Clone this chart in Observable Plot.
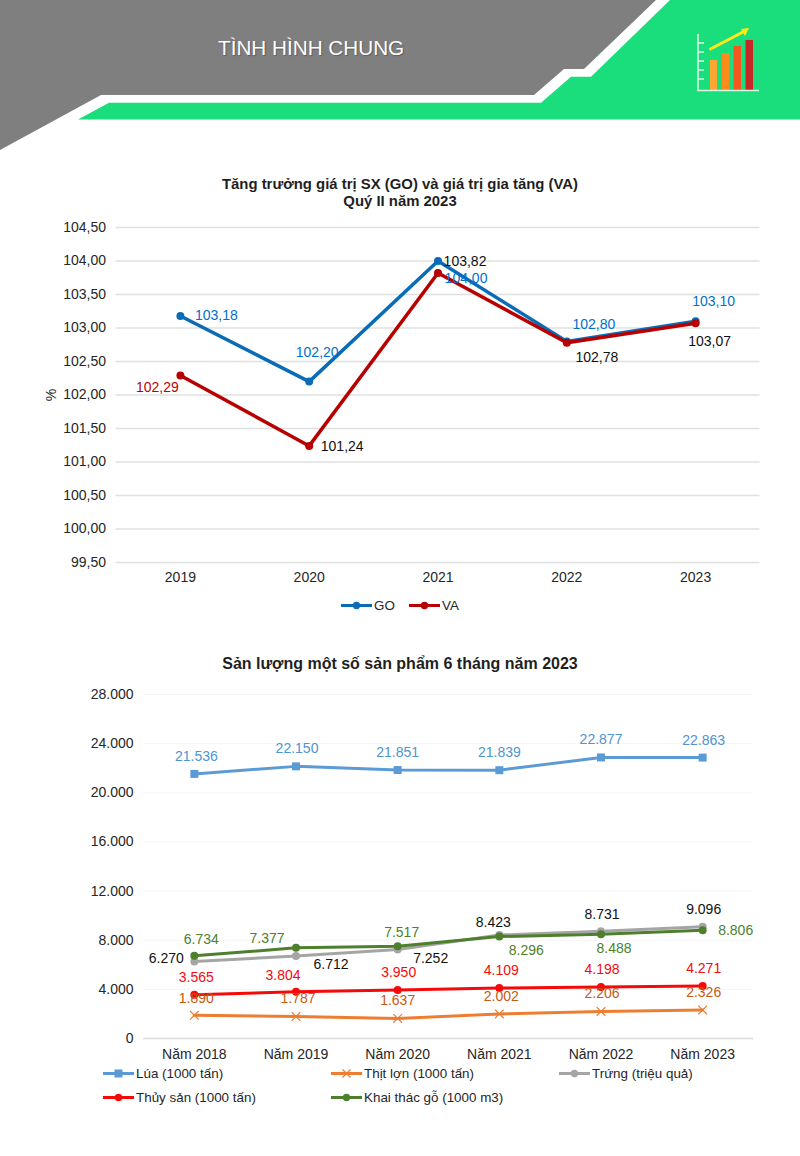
<!DOCTYPE html>
<html lang="vi">
<head>
<meta charset="utf-8">
<title>Tình hình chung</title>
<script src="https://cdn.jsdelivr.net/npm/d3@7"></script>
<script src="https://cdn.jsdelivr.net/npm/@observablehq/plot@0.6"></script>
<style>
  html, body { margin: 0; padding: 0; background: #fff; }
  #page { position: relative; width: 800px; height: 1156px; overflow: hidden; font-family: "Liberation Sans", Arial, sans-serif; color: #1a1a1a; }
  #page > svg { position: absolute; }
  .title { position: absolute; left: 0; width: 800px; text-align: center; font-weight: bold; color: #1f1f1f; }
  .legend { position: absolute; display: flex; align-items: center; font-size: 13.400px; color: #262626; white-space: nowrap; }
  .legend svg { display: block; margin-right: 2px; }
  #banner-text { position: absolute; left: 218px; top: 36px; font-size: 20.700px; color: #fff; text-shadow: 1px 1px 1px rgba(60,60,60,.5); white-space: nowrap; }
</style>
</head>
<body>
<div id="page">
  <svg width="800" height="160" style="left:0;top:0">
    <polygon points="78,119.5 109,102.7 541,102.7 571,76.7 591,76.7 670,0 800,0 800,119.5" fill="#19de7b"/>
    <polygon points="0,0 656,0 584,69 564,69 534,95 101,95 0,150" fill="#7f7f7f"/>
    <g>
      <rect x="710" y="60" width="7" height="30" fill="#ffa733"/>
      <rect x="722" y="53" width="7" height="37" fill="#ff8c1a"/>
      <rect x="733.5" y="46" width="7.5" height="44" fill="#f4581f"/>
      <rect x="745.5" y="40" width="7.5" height="50" fill="#c62828"/>
      <path d="M698 34V90.5H759M698 43h6M698 52h6M698 61h6M698 70h6M698 79h6" fill="none" stroke="#d8f5e6" stroke-width="1.6"/>
      <path d="M709.5 49.500L743 32" stroke="#ffeb1a" stroke-width="3" fill="none"/>
      <polygon points="749,28 741,29 745,36" fill="#ffeb1a"/>
    </g>
  </svg>
  <div id="banner-text">TÌNH HÌNH CHUNG</div>

  <div class="title" style="top:176px;font-size:14.900px;line-height:17px">Tăng trưởng giá trị SX (GO) và giá trị gia tăng (VA)<br>Quý II năm 2023</div>
  <div class="title" style="top:655px;font-size:16px;line-height:18px">Sản lượng một số sản phẩm 6 tháng năm 2023</div>
</div>
<script>
// ---------- Data ----------
const growthYears = ["2019", "2020", "2021", "2022", "2023"];
const goValues = [103.18, 102.20, 104.00, 102.80, 103.10];
const vaValues = [102.29, 101.24, 103.82, 102.78, 103.07];
const growthTicks = [99.5, 100, 100.5, 101, 101.5, 102, 102.5, 103, 103.5, 104, 104.5];

const outputYears = ["Năm 2018", "Năm 2019", "Năm 2020", "Năm 2021", "Năm 2022", "Năm 2023"];
const luaValues = [21536, 22150, 21851, 21839, 22877, 22863];
const thitLonValues = [1890, 1787, 1637, 2002, 2206, 2326];
const trungValues = [6270, 6712, 7252, 8423, 8731, 9096];
const thuySanValues = [3565, 3804, 3950, 4109, 4198, 4271];
const khaiThacGoValues = [6734, 7377, 7517, 8296, 8488, 8806];
const outputTicks = [0, 4000, 8000, 12000, 16000, 20000, 24000, 28000];

// ---------- Helpers ----------
const fmtDec = d => d.toFixed(2).replace(".", ",");
const fmtInt = d => d3.format(",")(d).replace(/,/g, ".");
const page = document.getElementById("page");

function seriesMarks(cats, values, o) {
  const rows = cats.map((c, i) => ({c, v: values[i]}));
  return [
    Plot.line(rows, {x: "c", y: "v", stroke: o.color, strokeWidth: o.width ?? 3, curve: "linear"}),
    Plot.dot(rows, {x: "c", y: "v", r: o.r ?? 4, symbol: o.symbol ?? "circle",
      ...(o.symbol === "times" ? {stroke: o.color, strokeWidth: 1.2, fill: "none"} : {fill: o.color, stroke: "none"})})
  ];
}
function labelMarks(cats, values, fmt, color, offsets) {
  return values.map((v, i) => {
    const c = Array.isArray(color) ? color[i] : color;
    return Plot.text([{c: cats[i], v}], {x: "c", y: "v", text: d => fmt(d.v), fill: c,
      dx: offsets[i][0], dy: offsets[i][1], fontSize: 14, textAnchor: "middle"});
  });
}
function legendItem(left, top, label, color, kind) {
  const el = document.createElement("div");
  el.className = "legend";
  el.style.left = left + "px";
  el.style.top = top + "px";
  let mark = "";
  if (kind === "square") mark = `<rect x="11.500" y="3.500" width="8" height="8" fill="${color}"/>`;
  if (kind === "circle") mark = `<circle cx="15.500" cy="7.500" r="3.700" fill="${color}"/>`;
  if (kind === "times") mark = `<path d="M11.500 3.500l8 8M19.500 3.500l-8 8" stroke="${color}" stroke-width="1.200"/>`;
  el.innerHTML = `<svg width="31" height="15"><line x1="0" x2="31" y1="7.500" y2="7.500" stroke="${color}" stroke-width="3"/>${mark}</svg><span>${label}</span>`;
  page.appendChild(el);
}

// ---------- Chart 1 ----------
const blue = "#0a6cb6", red = "#b80000";
const chart1 = Plot.plot({
  width: 800, height: 400,
  marginLeft: 115.5, marginRight: 40.5, marginTop: 27, marginBottom: 38,
  style: {fontFamily: "'Liberation Sans', Arial, sans-serif", fontSize: "14px", background: "transparent", color: "#262626"},
  x: {type: "point", domain: growthYears, padding: 0.5, round: false, label: null},
  y: {domain: [99.5, 104.5], label: null},
  marks: [
    Plot.ruleY(growthTicks, {stroke: "#e0e0e0", strokeWidth: 1.5}),
    Plot.axisY(growthTicks, {tickSize: 0, tickPadding: 10, tickFormat: fmtDec, fontSize: 14, label: "%", labelAnchor: "center", labelArrow: "none", labelOffset: 70}),
    Plot.axisX(growthYears, {tickSize: 0, tickPadding: 10, fontSize: 14, label: null}),
    ...seriesMarks(growthYears, goValues, {color: blue, width: 3.5}),
    ...seriesMarks(growthYears, vaValues, {color: red, width: 3.5}),
    ...labelMarks(growthYears, goValues, fmtDec, "#0070c8", [[36, 0], [8, -29], [28, 18], [27, -17], [18, -20]]),
    ...labelMarks(growthYears, vaValues, fmtDec, ["#c00000", "#111", "#111", "#111", "#111"], [[-23, 12], [33, 1], [27, -12], [30, 15], [14, 18]])
  ]
});
chart1.style.left = "0px"; chart1.style.top = "200px";
page.appendChild(chart1);
legendItem(341, 598, "GO", blue, "circle");
legendItem(409, 598, "VA", red, "circle");

// ---------- Chart 2 ----------
const cLua = "#5b9bd5", cThit = "#ed7d31", cTrung = "#a5a5a5", cThuy = "#f50a0a", cGo = "#4d7f2d";
const chart2 = Plot.plot({
  width: 800, height: 390,
  marginLeft: 143, marginRight: 47, marginTop: 14, marginBottom: 32,
  style: {fontFamily: "'Liberation Sans', Arial, sans-serif", fontSize: "14px", background: "transparent", color: "#262626"},
  x: {type: "point", domain: outputYears, padding: 0.5, round: false, label: null},
  y: {domain: [0, 28000], label: null},
  marks: [
    Plot.ruleY(outputTicks.filter(d => d > 0), {stroke: "#f4f4f4", strokeWidth: 1}),
    Plot.ruleY([0], {stroke: "#dcdcdc", strokeWidth: 1.5}),
    Plot.axisY(outputTicks, {tickSize: 0, tickPadding: 10, tickFormat: fmtInt, fontSize: 14, label: null}),
    Plot.axisX(outputYears, {tickSize: 0, tickPadding: 11, fontSize: 14, label: null}),
    ...seriesMarks(outputYears, luaValues, {color: cLua, symbol: "square", r: 4.5}),
    ...seriesMarks(outputYears, thitLonValues, {color: cThit, symbol: "times", r: 4}),
    ...seriesMarks(outputYears, trungValues, {color: cTrung}),
    ...seriesMarks(outputYears, thuySanValues, {color: cThuy}),
    ...seriesMarks(outputYears, khaiThacGoValues, {color: cGo}),
    ...labelMarks(outputYears, luaValues, fmtInt, "#4f93d2", [[2, -17.5], [1, -17.5], [0, -17.5], [0, -17.5], [0, -17.5], [1, -17.5]]),
    ...labelMarks(outputYears, thitLonValues, fmtInt, "#c55a11", [[2, -17], [2, -18], [0, -18], [2, -17], [1, -18], [1, -17]]),
    ...labelMarks(outputYears, trungValues, fmtInt, "#111", [[-28, -3], [35, 8.500], [33, 9], [-6, -13], [1, -17], [1, -17]]),
    ...labelMarks(outputYears, thuySanValues, fmtInt, "#f50a0a", [[2, -17], [-13, -16], [1, -17.500], [2, -17.500], [1, -17], [1, -17.500]]),
    ...labelMarks(outputYears, khaiThacGoValues, fmtInt, "#4d7f2d", [[7, -16], [-29, -9], [4, -14], [27, 14], [13, 14], [33, 0]])
  ]
});
chart2.style.left = "0px"; chart2.style.top = "680px";
page.appendChild(chart2);
legendItem(103, 1066, "Lúa (1000 tấn)", cLua, "square");
legendItem(331, 1066, "Thịt lợn (1000 tấn)", cThit, "times");
legendItem(559, 1066, "Trứng (triệu quả)", cTrung, "circle");
legendItem(103, 1090, "Thủy sản (1000 tấn)", cThuy, "circle");
legendItem(331, 1090, "Khai thác gỗ (1000 m3)", cGo, "circle");
</script>
</body>
</html>
